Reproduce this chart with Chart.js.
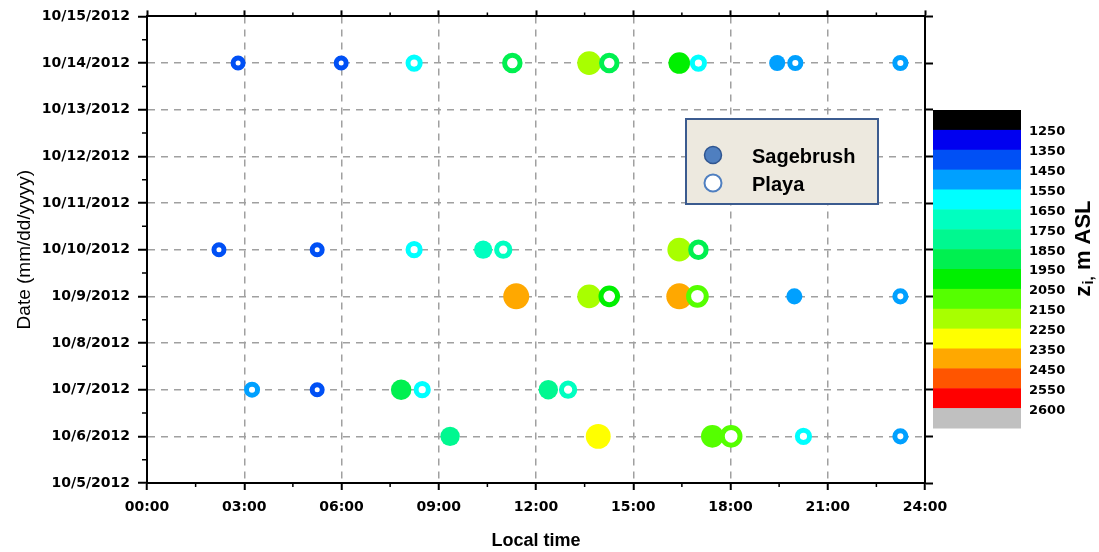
<!DOCTYPE html>
<html>
<head>
<meta charset="utf-8">
<script src="https://cdn.jsdelivr.net/npm/chart.js@4.4.0/dist/chart.umd.min.js"></script>
<style>
  html, body { margin: 0; padding: 0; background: #fff; }
</style>
</head>
<body>
<canvas id="chart" width="1099" height="552"></canvas>
<script>
// axis labels
const dateLabels = ['10/5/2012', '10/6/2012', '10/7/2012', '10/8/2012', '10/9/2012', '10/10/2012',
  '10/11/2012', '10/12/2012', '10/13/2012', '10/14/2012', '10/15/2012'];
const timeLabels = ['00:00', '03:00', '06:00', '09:00', '12:00', '15:00', '18:00', '21:00', '24:00'];

// colour scale for zi (m ASL)
const ziLevels = [1250, 1350, 1450, 1550, 1650, 1750, 1850, 1950, 2050, 2150, 2250, 2350, 2450, 2550, 2600];
const bandColors = ['#000000', '#0000f0', '#0050f5', '#00a0ff', '#00ffff', '#00ffc0', '#00f890', '#00f050',
  '#00f000', '#55ff00', '#a8ff00', '#ffff00', '#ffa800', '#ff5500', '#ff0000', '#c0c0c0'];

// Sagebrush (filled)
const sageDate = ['10/14/2012', '10/14/2012', '10/14/2012',
  '10/10/2012', '10/10/2012',
  '10/9/2012', '10/9/2012', '10/9/2012', '10/9/2012',
  '10/7/2012', '10/7/2012',
  '10/6/2012', '10/6/2012', '10/6/2012'];
const sageTime = [13.64, 16.42, 19.44,
  10.37, 16.42,
  11.39, 13.64, 16.42, 19.97,
  7.84, 12.38,
  9.35, 13.92, 17.44];
const sageZi = [2200, 2000, 1500,
  1700, 2200,
  2400, 2200, 2400, 1500,
  1900, 1800,
  1800, 2300, 2100];

// Playa (open)
const playaDate = ['10/14/2012', '10/14/2012', '10/14/2012', '10/14/2012', '10/14/2012', '10/14/2012', '10/14/2012', '10/14/2012',
  '10/10/2012', '10/10/2012', '10/10/2012', '10/10/2012', '10/10/2012',
  '10/9/2012', '10/9/2012', '10/9/2012',
  '10/7/2012', '10/7/2012', '10/7/2012', '10/7/2012',
  '10/6/2012', '10/6/2012', '10/6/2012'];
const playaTime = [2.81, 5.99, 8.24, 11.27, 14.26, 17.01, 20.0, 23.24,
  2.22, 5.25, 8.24, 10.99, 17.01,
  14.26, 16.98, 23.24,
  3.24, 5.25, 8.49, 12.99,
  18.02, 20.25, 23.24];
const playaZi = [1400, 1400, 1600, 1900, 1900, 1600, 1500, 1500,
  1400, 1400, 1600, 1700, 1900,
  2000, 2100, 1500,
  1500, 1400, 1600, 1700,
  2100, 1600, 1500];

function ziColor(v) {
  let i = 0;
  while (i < ziLevels.length && ziLevels[i] <= v) i++;
  return bandColors[i];
}
// marker size grows with zi
function ziRadius(v) {
  return 7.5 + (v - 1400) * 0.0055;
}

function toPoints(dates, times) {
  return times.map((t, i) => ({ x: t, y: dateLabels.indexOf(dates[i]) }));
}

const tickFont = { family: 'DejaVu Sans', weight: 'bold', size: 14 };

const extras = {
  id: 'extras',
  afterDraw(chart) {
    const { ctx, scales: { x, y }, chartArea: a } = chart;
    ctx.save();

    // minor ticks
    ctx.strokeStyle = '#000';
    ctx.lineWidth = 1.5;
    ctx.beginPath();
    for (let t = 1.5; t < 24; t += 3) {
      const px = x.getPixelForValue(t);
      ctx.moveTo(px, a.bottom); ctx.lineTo(px, a.bottom + 4);
      ctx.moveTo(px, a.top); ctx.lineTo(px, a.top - 4);
    }
    for (let d = 0.5; d < 10; d += 1) {
      const py = y.getPixelForValue(d);
      ctx.moveTo(a.left - 5, py); ctx.lineTo(a.left, py);
    }
    ctx.stroke();

    // colour bar
    const cbX = 933, cbW = 88, cbTop = 110, cbBottom = 428;
    const bandH = (cbBottom - cbTop) / bandColors.length;
    bandColors.forEach((c, i) => {
      ctx.fillStyle = c;
      ctx.fillRect(cbX, cbTop + i * bandH, cbW, bandH + 0.5);
    });
    ctx.fillStyle = '#000';
    ctx.font = 'bold 13px "DejaVu Sans"';
    ctx.textAlign = 'left';
    ctx.textBaseline = 'middle';
    ziLevels.forEach((lv, i) => {
      ctx.fillText(String(lv), 1029, cbTop + (i + 1) * bandH + 2);
    });

    // colour bar title: z_i, m ASL
    ctx.save();
    ctx.translate(1083, 249);
    ctx.rotate(-Math.PI / 2);
    const big = 'bold 22px "Liberation Sans"', small = 'bold 15px "Liberation Sans"';
    ctx.font = big; const w1 = ctx.measureText('z').width; const w3 = ctx.measureText(' m ASL').width;
    ctx.font = small; const w2 = ctx.measureText('i,').width;
    let sx = -(w1 + w2 + w3) / 2;
    ctx.textBaseline = 'alphabetic';
    ctx.font = big; ctx.fillText('z', sx, 7); sx += w1;
    ctx.font = small; ctx.fillText('i,', sx + 1, 10); sx += w2 + 1;
    ctx.font = big; ctx.fillText(' m ASL', sx, 7);
    ctx.restore();

    // legend box
    ctx.fillStyle = '#ede9df';
    ctx.fillRect(686, 119, 192, 85);
    ctx.strokeStyle = '#3b5b8f';
    ctx.lineWidth = 2;
    ctx.strokeRect(686, 119, 192, 85);
    ctx.beginPath();
    ctx.arc(713, 155, 8.5, 0, Math.PI * 2);
    ctx.fillStyle = '#4f7fc0';
    ctx.fill();
    ctx.strokeStyle = '#2f5590';
    ctx.lineWidth = 1.5;
    ctx.stroke();
    ctx.beginPath();
    ctx.arc(713, 183, 8.5, 0, Math.PI * 2);
    ctx.fillStyle = '#ffffff';
    ctx.fill();
    ctx.strokeStyle = '#4f7fc0';
    ctx.lineWidth = 2;
    ctx.stroke();
    ctx.fillStyle = '#000';
    ctx.font = 'bold 20px "Liberation Sans"';
    ctx.textBaseline = 'middle';
    ctx.fillText('Sagebrush', 752, 157);
    ctx.fillText('Playa', 752, 185);

    ctx.restore();
  }
};

new Chart(document.getElementById('chart'), {
  type: 'scatter',
  data: {
    datasets: [{
      label: 'Sagebrush',
      data: toPoints(sageDate, sageTime),
      order: 2,
      backgroundColor: c => ziColor(sageZi[c.dataIndex]),
      borderColor: c => ziColor(sageZi[c.dataIndex]),
      borderWidth: 0,
      pointRadius: c => ziRadius(sageZi[c.dataIndex]),
      pointHoverRadius: c => ziRadius(sageZi[c.dataIndex])
    }, {
      label: 'Playa',
      data: toPoints(playaDate, playaTime),
      order: 1,
      backgroundColor: '#ffffff',
      borderColor: c => ziColor(playaZi[c.dataIndex]),
      borderWidth: 5,
      pointRadius: c => ziRadius(playaZi[c.dataIndex]) - 2.5,
      pointHoverRadius: c => ziRadius(playaZi[c.dataIndex]) - 2.5
    }]
  },
  options: {
    responsive: false,
    animation: false,
    devicePixelRatio: 1,
    layout: { padding: 0, autoPadding: false },
    plugins: { legend: { display: false }, tooltip: { enabled: false } },
    scales: {
      x: {
        type: 'linear', position: 'bottom', min: 0, max: 24,
        afterBuildTicks: axis => { axis.ticks = timeLabels.map((t, i) => ({ value: i * 3 })); },
        ticks: {
          autoSkip: false, maxRotation: 0, padding: 9, color: '#000', font: tickFont,
          callback: v => timeLabels[Math.round(v / 3)]
        },
        grid: {
          color: c => (c.tick && c.tick.value > 0 && c.tick.value < 24) ? '#a0a0a0' : 'rgba(0,0,0,0)',
          lineWidth: 1.5, tickColor: '#000', tickWidth: 2, tickLength: 7
        },
        border: { color: '#000', width: 2, dash: [7, 6] },
        title: {
          display: true, text: 'Local time', color: '#000',
          font: { family: 'Liberation Sans', weight: 'bold', size: 18 }, padding: { top: 0, bottom: 0 }
        },
        afterFit: s => { s.height = 69; }
      },
      y: {
        type: 'linear', position: 'left', min: 0, max: 10,
        afterBuildTicks: axis => { axis.ticks = dateLabels.map((d, i) => ({ value: i })); },
        ticks: {
          autoSkip: false, padding: 8, color: '#000', font: tickFont,
          callback: v => dateLabels[v]
        },
        grid: {
          color: c => (c.tick && c.tick.value > 0 && c.tick.value < 10) ? '#a0a0a0' : 'rgba(0,0,0,0)',
          lineWidth: 1.5, tickColor: '#000', tickWidth: 2, tickLength: 9
        },
        border: { color: '#000', width: 2, dash: [7, 6] },
        title: {
          display: true, text: 'Date (mm/dd/yyyy)', color: '#000',
          font: { family: 'Liberation Sans', size: 19 }, padding: { top: 13, bottom: 0 }
        },
        afterFit: s => { s.width = 147; }
      },
      x2: {
        type: 'linear', position: 'top', min: 0, max: 24,
        afterBuildTicks: axis => { axis.ticks = timeLabels.map((t, i) => ({ value: i * 3 })); },
        ticks: { display: false },
        grid: { drawOnChartArea: false, tickColor: '#000', tickWidth: 2, tickLength: 6 },
        border: { color: '#000', width: 2 },
        afterFit: s => { s.height = 16; }
      },
      y2: {
        type: 'linear', position: 'right', min: 0, max: 10,
        afterBuildTicks: axis => { axis.ticks = dateLabels.map((d, i) => ({ value: i })); },
        ticks: { display: false },
        grid: { drawOnChartArea: false, tickColor: '#000', tickWidth: 2, tickLength: 8 },
        border: { color: '#000', width: 2 },
        afterFit: s => { s.width = 174; }
      }
    }
  },
  plugins: [extras]
});
</script>
</body>
</html>
